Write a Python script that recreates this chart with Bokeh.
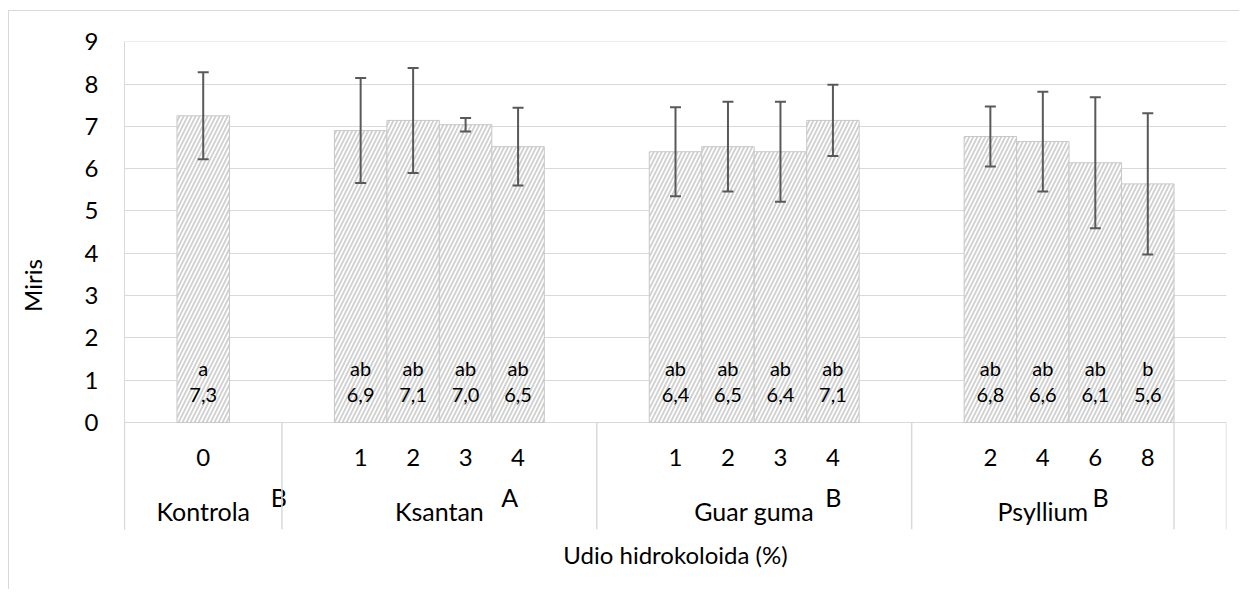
from bokeh.plotting import figure
from bokeh.models import Range1d, FixedTicker, ColumnDataSource, Whisker, TeeHead, LinearAxis
from bokeh.core.properties import value
from bokeh.embed import file_html
from bokeh.resources import INLINE

# ---- data ----
groups = ["Kontrola", "Ksantan", "Guar guma", "Psyllium"]
group_letters = ["B", "A", "B", "B"]
levels = [["0"], ["1", "2", "3", "4"], ["1", "2", "3", "4"], ["2", "4", "6", "8"]]
means = [[7.25], [6.90, 7.14, 7.04, 6.52], [6.40, 6.52, 6.40, 7.14], [6.76, 6.64, 6.14, 5.64]]
sds = [[1.03], [1.24, 1.24, 0.16, 0.92], [1.05, 1.06, 1.18, 0.84], [0.71, 1.18, 1.55, 1.67]]
sig_letters = [["a"], ["ab", "ab", "ab", "ab"], ["ab", "ab", "ab", "ab"], ["ab", "ab", "ab", "b"]]
value_labels = [["7,3"], ["6,9", "7,1", "7,0", "6,5"], ["6,4", "6,5", "6,4", "7,1"], ["6,8", "6,6", "6,1", "5,6"]]
y_ticks = [0, 1, 2, 3, 4, 5, 6, 7, 8, 9]
y_title = "Miris"
x_title = "Udio hidrokoloida (%)"

# ---- layout of category slots (blank slots as in the original) ----
pad_before = [1, 1, 1, 1]
pad_after = [1, 1, 1, 0]
trailing_slots = 1
letter_dx = [1.44, 1.34, 1.51, 1.10]

xs, tops, uppers, lowers, sig, vals, ticklabs = [], [], [], [], [], [], []
boundaries = [0]
group_centers = []
pos = 0
for gi, g in enumerate(groups):
    start = pos
    pos += pad_before[gi]
    for li, lev in enumerate(levels[gi]):
        xs.append(pos + 0.5)
        tops.append(means[gi][li])
        uppers.append(means[gi][li] + sds[gi][li])
        lowers.append(means[gi][li] - sds[gi][li])
        sig.append(sig_letters[gi][li])
        vals.append(value_labels[gi][li])
        ticklabs.append(lev)
        pos += 1
    pos += pad_after[gi]
    boundaries.append(pos)
    group_centers.append((start + pos) / 2)
pos += trailing_slots
boundaries.append(pos)
n_slots = pos

y_bottom = -2.528
FONT = "Lato"
GRID = "#d9d9d9"

p = figure(width=1231, height=579, output_backend="svg", toolbar_location=None,
           x_range=Range1d(0, n_slots), y_range=Range1d(y_bottom, 9.005),
           min_border_left=115, min_border_right=14, min_border_top=30, min_border_bottom=61,
           x_axis_type=None)
p.outline_line_color = None
p.background_fill_color = "white"
p.border_fill_color = "white"
p.styles = {"margin-left": "8px", "margin-top": "10px",
            "border-left": "1px solid #d9d9d9", "border-top": "1px solid #d9d9d9"}

# y axis
p.yaxis.ticker = FixedTicker(ticks=y_ticks)
p.yaxis.axis_line_color = GRID
p.yaxis.major_tick_line_color = None
p.yaxis.minor_tick_line_color = None
p.yaxis.major_label_standoff = 20
p.yaxis.major_label_text_font = FONT
p.yaxis.major_label_text_font_size = "24px"
p.yaxis.major_label_text_color = "black"
p.yaxis.axis_label = y_title
p.yaxis.axis_label_text_font = FONT
p.yaxis.axis_label_text_font_size = "24px"
p.yaxis.axis_label_text_font_style = "normal"
p.yaxis.axis_label_text_color = "black"
p.yaxis.axis_label_standoff = 35

p.ygrid.ticker = FixedTicker(ticks=y_ticks)
p.ygrid.grid_line_color = GRID
p.ygrid.grid_line_width = 1

# x axis carrying only the title
xa = LinearAxis(ticker=FixedTicker(ticks=[]), axis_line_color=None,
                major_tick_line_color=None, minor_tick_line_color=None,
                major_label_text_font_size="0px")
xa.axis_label = x_title
xa.axis_label_text_font = FONT
xa.axis_label_text_font_size = "24px"
xa.axis_label_text_font_style = "normal"
xa.axis_label_text_color = "black"
xa.axis_label_standoff = 10
p.add_layout(xa, "below")

src = ColumnDataSource(dict(x=xs, top=tops, upper=uppers, lower=lowers, sig=sig, val=vals, tick=ticklabs))

p.vbar(x="x", top="top", bottom=0, width=1, source=src,
       fill_color="white", line_color="#c8c8c8", line_width=1,
       hatch_pattern="/", hatch_color="#d0d0d0", hatch_scale=8, hatch_weight=1.8)

ERR = "#595959"
w = Whisker(source=src, base="x", upper="upper", lower="lower", line_color=ERR, line_width=2,
            upper_head=TeeHead(size=11, line_color=ERR, line_width=2),
            lower_head=TeeHead(size=11, line_color=ERR, line_width=2))
w.level = "overlay"
p.add_layout(w)

# labels inside bars
p.text(x="x", y=1.30, text="sig", source=src, text_align="center", text_baseline="middle",
       text_font=value(FONT), text_font_size="20px", text_color="black")
p.text(x="x", y=0.64, text="val", source=src, text_align="center", text_baseline="middle",
       text_font=value(FONT), text_font_size="20px", text_color="black")

# category axis (multi-level) drawn below zero
p.text(x="x", y=-0.83, text="tick", source=src, text_align="center", text_baseline="middle",
       text_font=value(FONT), text_font_size="24px", text_color="black")
p.text(x=group_centers, y=[-2.10] * len(groups), text=groups, text_align="center", text_baseline="middle",
       text_font=value(FONT), text_font_size="25px", text_color="black")
p.text(x=[c + d for c, d in zip(group_centers, letter_dx)], y=[-1.77] * len(groups), text=group_letters,
       text_align="center", text_baseline="middle",
       text_font=value(FONT), text_font_size="25px", text_color="black")
p.segment(x0=boundaries, y0=[0] * len(boundaries), x1=boundaries, y1=[y_bottom] * len(boundaries),
          line_color=GRID, line_width=1.5)

open("out.html", "w").write(file_html(p, INLINE))
